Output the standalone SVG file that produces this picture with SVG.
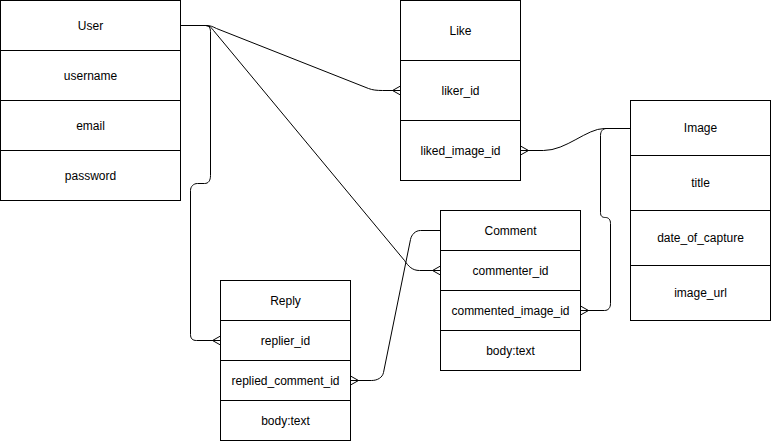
<svg xmlns="http://www.w3.org/2000/svg" width="771" height="441" viewBox="0 0 771 441">
<style>
.cell{fill:#fff;stroke:#000;stroke-width:1}
.lbl{font-family:"Liberation Sans",Arial,sans-serif;font-size:12px;fill:#000;text-anchor:middle}
.edge{fill:none;stroke:#000;stroke-width:1}
</style>
<defs>
<marker id="many" markerUnits="userSpaceOnUse" markerWidth="14" markerHeight="14" viewBox="-10 -7 14 14" refX="0" refY="0" orient="auto" overflow="visible">
<path d="M0,-4.5 L-8,0 L0,4.5" fill="none" stroke="#000" stroke-width="1"/>
</marker>
</defs>
<rect x="0" y="0" width="771" height="441" fill="#fff"/>
<g transform="translate(0.5,0.5)">
<g id="connectors">
<path class="edge" marker-end="url(#many)" d="M180,25 L205,25 C210,25 212,26 216,28 L368,88 C372,89.5 376,90 382,90 L400,90"/>
<path class="edge" marker-end="url(#many)" d="M180,25 L205,25 C209,25 211,27 213,30 L404,260 C408,266 412,270 419,270 L440,270"/>
<path class="edge" marker-end="url(#many)" d="M180,25 L205,25 C208,25 210,27 210,31 L210,175 C210,180 208,183 204,183 L197,183 C193,183 190,186 190,190 L190,334 C190,338 192,340 196,340 L220,340"/>
<path class="edge" marker-end="url(#many)" d="M630,128 L604,128 C586,128 566,150 543,150 L520,150"/>
<path class="edge" marker-end="url(#many)" d="M630,128 L606,128 C602,128 600,131 600,135 L600,212 C600,216 602,217 605,217 C608,217 610,219 610,223 L610,303 C610,307 608,310 604,310 L580,310"/>
<path class="edge" marker-end="url(#many)" d="M440,230 L420,230 C415,230 411,234 410,239 L383,372 C382,377 377,380 371,380 L350,380"/>
</g>
<g id="user">
<rect class="cell" x="0" y="0" width="180" height="50"/>
<rect class="cell" x="0" y="50" width="180" height="50"/>
<rect class="cell" x="0" y="100" width="180" height="50"/>
<rect class="cell" x="0" y="150" width="180" height="50"/>
<text class="lbl" x="90" y="29">User</text>
<text class="lbl" x="90" y="79">username</text>
<text class="lbl" x="90" y="129">email</text>
<text class="lbl" x="90" y="179">password</text>
</g>
<g id="like">
<rect class="cell" x="400" y="0" width="120" height="60"/>
<rect class="cell" x="400" y="60" width="120" height="60"/>
<rect class="cell" x="400" y="120" width="120" height="60"/>
<text class="lbl" x="460" y="34">Like</text>
<text class="lbl" x="460" y="94">liker_id</text>
<text class="lbl" x="460" y="154">liked_image_id</text>
</g>
<g id="image">
<rect class="cell" x="630" y="100" width="140" height="55"/>
<rect class="cell" x="630" y="155" width="140" height="55"/>
<rect class="cell" x="630" y="210" width="140" height="55"/>
<rect class="cell" x="630" y="265" width="140" height="55"/>
<text class="lbl" x="700" y="131.5">Image</text>
<text class="lbl" x="700" y="186.5">title</text>
<text class="lbl" x="700" y="241.5">date_of_capture</text>
<text class="lbl" x="700" y="296.5">image_url</text>
</g>
<g id="comment">
<rect class="cell" x="440" y="210" width="140" height="40"/>
<rect class="cell" x="440" y="250" width="140" height="40"/>
<rect class="cell" x="440" y="290" width="140" height="40"/>
<rect class="cell" x="440" y="330" width="140" height="40"/>
<text class="lbl" x="510" y="234">Comment</text>
<text class="lbl" x="510" y="274">commenter_id</text>
<text class="lbl" x="510" y="314">commented_image_id</text>
<text class="lbl" x="510" y="354">body:text</text>
</g>
<g id="reply">
<rect class="cell" x="220" y="280" width="130" height="40"/>
<rect class="cell" x="220" y="320" width="130" height="40"/>
<rect class="cell" x="220" y="360" width="130" height="40"/>
<rect class="cell" x="220" y="400" width="130" height="40"/>
<text class="lbl" x="285" y="304">Reply</text>
<text class="lbl" x="285" y="344">replier_id</text>
<text class="lbl" x="285" y="384">replied_comment_id</text>
<text class="lbl" x="285" y="424">body:text</text>
</g>
</g>
</svg>
